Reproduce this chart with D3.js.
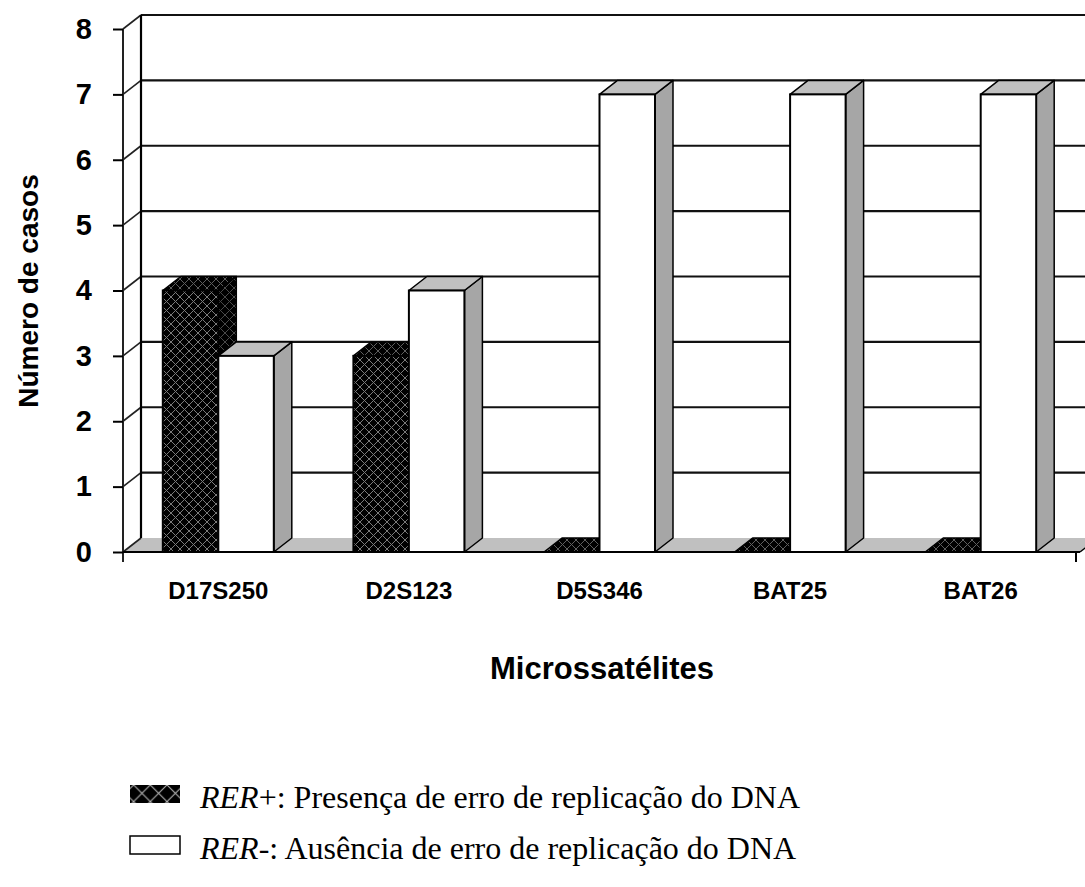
<!DOCTYPE html>
<html>
<head>
<meta charset="utf-8">
<script src="https://cdn.jsdelivr.net/npm/d3@7"></script>
<style>
  html, body { margin: 0; padding: 0; background: #fff; }
  svg { display: block; }
</style>
</head>
<body>
<svg id="chart" width="1085" height="887"></svg>
<script>
// Microsatellite instability counts per marker
const categories = ["D17S250", "D2S123", "D5S346", "BAT25", "BAT26"];
const rerPositive = [4, 3, 0, 0, 0];
const rerNegative = [3, 4, 7, 7, 7];
const seriesKeys = ["pos", "neg"];
const yTickValues = [0, 1, 2, 3, 4, 5, 6, 7, 8];
const yTitle = "Número de casos";
const xTitle = "Microssatélites";
const legendItalic = ["RER+", "RER-"];
const legendText = [": Presença de erro de replicação do DNA", ": Ausência de erro de replicação do DNA"];

const svg = d3.select("#chart");

// 3-D projection offset (depth of the floor / walls)
const DX = 18, DY = -14;
const FRONT_LEFT = 123, FRONT_RIGHT = 1076;

const y = d3.scaleLinear().domain([0, 8]).range([552, 29]);
const x = d3.scaleBand().domain(categories).range([FRONT_LEFT, FRONT_RIGHT]).paddingInner(0).paddingOuter(0);
const clusterWidth = 111;
const xs = d3.scaleBand().domain(seriesKeys).range([0, clusterWidth]).padding(0);

// Patterns
const defs = svg.append("defs");
function lattice(id, size, stroke, sw) {
  const p = defs.append("pattern").attr("id", id)
    .attr("patternUnits", "userSpaceOnUse").attr("width", size).attr("height", size);
  p.append("rect").attr("width", size).attr("height", size).attr("fill", "#000");
  p.append("path")
    .attr("d", `M0,0 L${size},${size} M${size},0 L0,${size}`)
    .attr("stroke", stroke).attr("stroke-width", sw).attr("fill", "none");
  return p;
}
lattice("latticeFront", 9, "#7a7a7a", 1);
lattice("latticeTop", 9, "#5e5e5e", 1);
lattice("latticeSide", 9, "#4a4a4a", 1);
lattice("latticeLegend", 16.7, "#bdbdbd", 1);

const y0 = y(0);
const xEnd = FRONT_RIGHT + 4;

// Floor
svg.append("polygon")
  .attr("points", [[FRONT_LEFT, y0], [FRONT_LEFT + DX, y0 + DY], [1085 + DX, y0 + DY], [xEnd + DX, y0 + DY], [xEnd, y0]].map(p => p.join(",")).join(" "))
  .attr("fill", "#c0c0c0").attr("stroke", "none");
svg.append("line")
  .attr("x1", xEnd).attr("y1", y0).attr("x2", xEnd + DX).attr("y2", y0 + DY)
  .attr("stroke", "#000").attr("stroke-width", 1.5);

// Back wall gridlines
const grid = svg.append("g");
grid.selectAll("line.back").data(yTickValues.filter(d => d > 0)).join("line")
  .attr("class", "back")
  .attr("x1", FRONT_LEFT + DX).attr("x2", 1085)
  .attr("y1", d => y(d) + DY).attr("y2", d => y(d) + DY)
  .attr("stroke", "#111").attr("stroke-width", 2.2);
// Side wall gridlines
grid.selectAll("line.side").data(yTickValues).join("line")
  .attr("class", "side")
  .attr("x1", FRONT_LEFT).attr("x2", FRONT_LEFT + DX)
  .attr("y1", d => y(d)).attr("y2", d => y(d) + DY)
  .attr("stroke", "#222").attr("stroke-width", 1.6);
// Wall corner and side wall front edge
svg.append("line")
  .attr("x1", FRONT_LEFT + DX).attr("x2", FRONT_LEFT + DX)
  .attr("y1", y(8) + DY).attr("y2", y0 + DY)
  .attr("stroke", "#000").attr("stroke-width", 2.2);
svg.append("line")
  .attr("x1", FRONT_LEFT).attr("x2", FRONT_LEFT)
  .attr("y1", y(8)).attr("y2", y0 + 10)
  .attr("stroke", "#222").attr("stroke-width", 2);

// Bars
const bars = [];
categories.forEach((c, i) => {
  const base = x(c) + (x.bandwidth() - clusterWidth) / 2;
  bars.push({ key: "pos", x: base + xs("pos"), v: rerPositive[i] });
  bars.push({ key: "neg", x: base + xs("neg"), v: rerNegative[i] });
});
const w = xs.bandwidth();
const pts = a => a.map(p => p.join(",")).join(" ");

const barG = svg.append("g");
bars.forEach(b => {
  const g = barG.append("g");
  const top = y(b.v);
  const dark = b.key === "pos";
  // side face
  g.append("polygon")
    .attr("points", pts([[b.x + w, top], [b.x + w + DX, top + DY], [b.x + w + DX, y0 + DY], [b.x + w, y0]]))
    .attr("fill", dark ? "url(#latticeSide)" : "#a6a6a6")
    .attr("stroke", "#000").attr("stroke-width", 1.5).attr("stroke-linejoin", "round");
  // top face
  g.append("polygon")
    .attr("points", pts([[b.x, top], [b.x + DX, top + DY], [b.x + w + DX, top + DY], [b.x + w, top]]))
    .attr("fill", dark ? "url(#latticeTop)" : "#c0c0c0")
    .attr("stroke", "#000").attr("stroke-width", 1.5).attr("stroke-linejoin", "round");
  // front face
  if (b.v > 0) {
    g.append("rect")
      .attr("x", b.x).attr("y", top).attr("width", w).attr("height", y0 - top)
      .attr("fill", dark ? "url(#latticeFront)" : "#fff")
      .attr("stroke", "#000").attr("stroke-width", 2);
  }
});

// Floor front edge
svg.append("line")
  .attr("x1", FRONT_LEFT).attr("x2", xEnd).attr("y1", y0).attr("y2", y0)
  .attr("stroke", "#000").attr("stroke-width", 2.2);
svg.append("line")
  .attr("x1", FRONT_RIGHT).attr("x2", FRONT_RIGHT).attr("y1", y0).attr("y2", y0 + 10)
  .attr("stroke", "#000").attr("stroke-width", 2);

// Y axis
const yAxis = svg.append("g")
  .attr("transform", `translate(${FRONT_LEFT},0)`)
  .call(d3.axisLeft(y).tickValues(yTickValues).tickSize(10).tickPadding(21).tickFormat(d3.format("d")));
yAxis.select(".domain").remove();
yAxis.selectAll(".tick line").attr("stroke", "#000").attr("stroke-width", 2);
yAxis.selectAll(".tick text")
  .attr("fill", "#000")
  .style("font-family", "'Liberation Sans', Arial, sans-serif")
  .style("font-weight", "bold").style("font-size", "29px");

// X axis labels
const xAxis = svg.append("g")
  .attr("transform", `translate(0,${y0})`)
  .call(d3.axisBottom(x).tickSize(0));
xAxis.select(".domain").remove();
xAxis.selectAll(".tick text")
  .attr("y", 47).attr("dy", 0).attr("fill", "#000")
  .style("font-family", "'Liberation Sans', Arial, sans-serif")
  .style("font-weight", "bold").style("font-size", "24px");

// Axis titles
svg.append("text")
  .attr("transform", "translate(38,291) rotate(-90)")
  .attr("text-anchor", "middle")
  .style("font-family", "'Liberation Sans', Arial, sans-serif")
  .style("font-weight", "bold").style("font-size", "28px")
  .text(yTitle);
svg.append("text")
  .attr("x", 602).attr("y", 679)
  .attr("text-anchor", "middle")
  .style("font-family", "'Liberation Sans', Arial, sans-serif")
  .style("font-weight", "bold").style("font-size", "31px")
  .text(xTitle);

// Legend
const legend = svg.append("g");
const legendY = [785, 836];
legendItalic.forEach((lab, i) => {
  legend.append("rect")
    .attr("x", 130).attr("y", legendY[i]).attr("width", 50).attr("height", 18)
    .attr("fill", i === 0 ? "url(#latticeLegend)" : "#fff")
    .attr("stroke", "#000").attr("stroke-width", i === 0 ? 0 : 1.5);
  const t = legend.append("text")
    .attr("x", 200).attr("y", legendY[i] + 23)
    .style("font-family", "'Liberation Serif', 'Times New Roman', serif")
    .style("font-size", "32px").attr("fill", "#000");
  t.append("tspan").style("font-style", "italic").text(lab.slice(0, 3));
  t.append("tspan").text(lab.slice(3) + legendText[i]);
});
</script>
</body>
</html>
